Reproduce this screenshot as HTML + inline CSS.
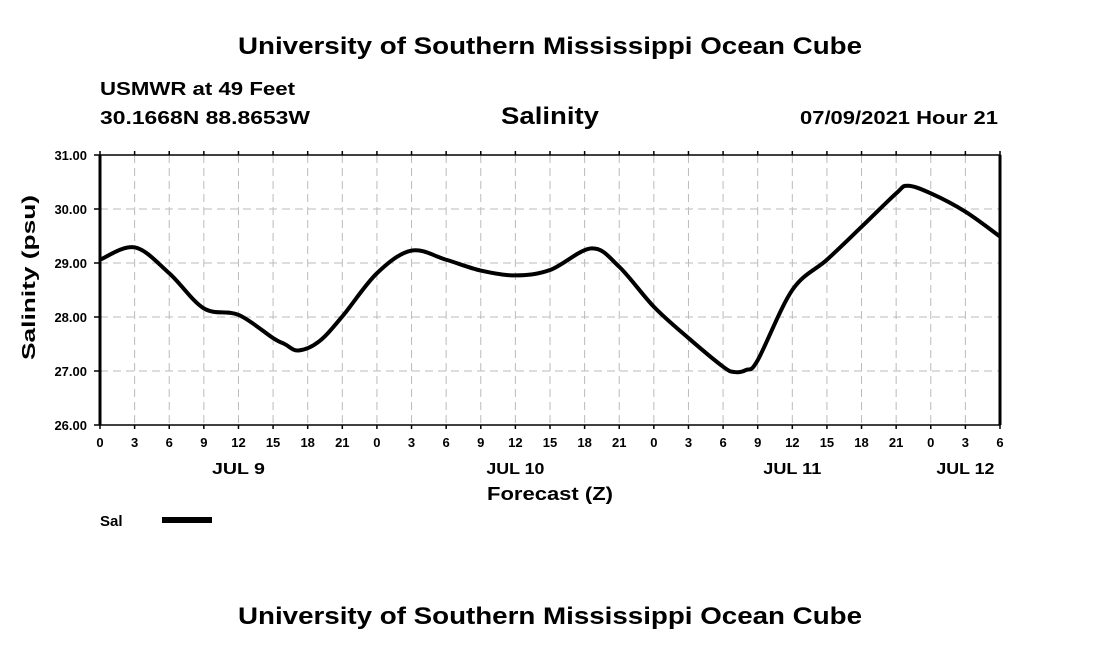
<!DOCTYPE html>
<html><head><meta charset="utf-8"><style>
body{margin:0;background:#fff;width:1100px;height:650px;overflow:hidden}
svg text{font-family:"Liberation Sans",sans-serif;font-weight:bold;fill:#000}
</style></head><body>
<svg id="c" width="1100" height="650">
<text x="238" y="54" font-size="24" textLength="624" lengthAdjust="spacingAndGlyphs">University of Southern Mississippi Ocean Cube</text>
<text x="100" y="95" font-size="18" textLength="195" lengthAdjust="spacingAndGlyphs">USMWR at 49 Feet</text>
<text x="100" y="124" font-size="18" textLength="210" lengthAdjust="spacingAndGlyphs">30.1668N  88.8653W</text>
<text x="501" y="124" font-size="24" textLength="98" lengthAdjust="spacingAndGlyphs">Salinity</text>
<text x="800" y="124" font-size="18" textLength="198" lengthAdjust="spacingAndGlyphs">07/09/2021 Hour 21</text>
<g id="grid"></g><g id="axes"></g>
<path id="line" fill="none" stroke="#000" stroke-width="4" stroke-linejoin="round"></path>
<text x="487" y="500" font-size="18" textLength="126" lengthAdjust="spacingAndGlyphs">Forecast (Z)</text>
<text transform="translate(35,360) rotate(-90)" font-size="18" textLength="165" lengthAdjust="spacingAndGlyphs">Salinity (psu)</text>
<text x="100" y="526" font-size="15">Sal</text>
<rect x="162" y="517" width="50" height="6" fill="#000"></rect>
<text x="238" y="624" font-size="24" textLength="624" lengthAdjust="spacingAndGlyphs">University of Southern Mississippi Ocean Cube</text>
</svg>
<script>
const hours=[0,3,6,9,12,15,16,17.2,19,21,24,27,30,33,36,39,42.6,45,48,51,54,55,56,57,60,63,66,69,70,72,75,78];
const salinity=[29.06,29.29,28.81,28.16,28.04,27.61,27.5,27.38,27.55,28.01,28.81,29.23,29.06,28.86,28.77,28.87,29.27,28.93,28.19,27.61,27.08,26.98,27.02,27.2,28.5,29.06,29.67,30.29,30.43,30.29,29.95,29.49];
const yTicks=[26,27,28,29,30,31];
const xTickLabels=["0","3","6","9","12","15","18","21","0","3","6","9","12","15","18","21","0","3","6","9","12","15","18","21","0","3","6"];
const dayLabels=["JUL 9","JUL 10","JUL 11","JUL 12"];
const dayHours=[12,36,60,75];
const X=h=>100+h*900/78, Y=v=>155+(31-v)*54;
const NS="http://www.w3.org/2000/svg";
function mk(t,a,p){const e=document.createElementNS(NS,t);for(const k in a)e.setAttribute(k,a[k]);p.appendChild(e);return e;}
const g=document.getElementById('grid'), ax=document.getElementById('axes'), svg=document.getElementById('c');
yTicks.forEach(v=>{
  const l=mk('line',{x1:100,x2:1000,y1:Y(v),y2:Y(v),stroke:'#bbb','stroke-dasharray':'8,5'},g);
  
  
  const tk=mk('line',{x1:94,x2:100,y1:Y(v),y2:Y(v),stroke:'#000','stroke-width':1.5},ax);
  
  
  const t=mk('text',{x:87,y:Y(v)+5,'text-anchor':'end','font-size':13},svg);
  t.textContent=v.toFixed(2);
  
  
});
xTickLabels.forEach((s,i)=>{
  const x=X(i*3);
  const l=mk('line',{x1:x,x2:x,y1:155,y2:425,stroke:'#bbb','stroke-dasharray':'8,5'},g);
  
  
  [[151,155],[425,429]].forEach(([a,b])=>{const tk=mk('line',{x1:x,x2:x,y1:a,y2:b,stroke:'#000','stroke-width':1.5},ax);
  
  });
  const t=mk('text',{x:x,y:447,'text-anchor':'middle','font-size':13},svg);
  t.textContent=s;
  
  
});
dayLabels.forEach((s,i)=>{
  const t=mk('text',{x:X(dayHours[i]),y:474,'text-anchor':'middle','font-size':16,'textLength':s.length>5?58:53,'lengthAdjust':'spacingAndGlyphs'},svg);
  t.textContent=s;
  
  
});
const fr=mk('rect',{x:100,y:155,width:900,height:270,fill:'none',stroke:'#000','stroke-width':1.5},ax);


[100,1000].forEach(x=>{const l=mk('line',{x1:x,x2:x,y1:155,y2:425,stroke:'#000','stroke-width':3},ax);

});
const P=hours.map((h,i)=>[X(h),Y(salinity[i])]);
let d='M'+P[0][0]+','+P[0][1];
for(let i=0;i<P.length-1;i++){
  const p0=P[Math.max(0,i-1)],p1=P[i],p2=P[i+1],p3=P[Math.min(P.length-1,i+2)];
  d+=` C${p1[0]+(p2[0]-p0[0])/6},${p1[1]+(p2[1]-p0[1])/6} ${p2[0]-(p3[0]-p1[0])/6},${p2[1]-(p3[1]-p1[1])/6} ${p2[0]},${p2[1]}`;
}
document.getElementById('line').setAttribute('d',d);
</script>
</body></html>
